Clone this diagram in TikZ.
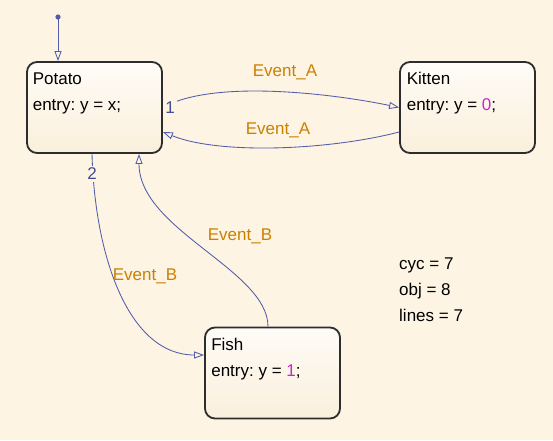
\documentclass[tikz,border=0pt]{standalone}
\usepackage{fontspec}
\setmainfont{Liberation Sans}
\usepackage{tikz}
\usetikzlibrary{arrows.meta, positioning, calc}
\definecolor{chartbg}{RGB}{253, 244, 227}
\definecolor{statetop}{RGB}{254, 252, 247}
\definecolor{statebot}{RGB}{250, 239, 219}
\definecolor{stateedge}{RGB}{45, 45, 45}
\definecolor{transblue}{RGB}{82, 92, 170}
\definecolor{eventorange}{RGB}{204, 128, 0}
\definecolor{valuepink}{RGB}{200, 40, 200}
\definecolor{numblue}{RGB}{65, 75, 150}
\frenchspacing

\tikzset{
  statebox/.style={draw=stateedge, line width=1.8pt, rounded corners=10pt, top color=statetop, bottom color=statebot, minimum width=135pt, minimum height=91pt, inner sep=0pt},
  statetext/.style={anchor=north west, align=left, inner sep=0pt, font=\fontsize{17}{26}\selectfont},
  trans/.style={draw=transblue, line width=0.85pt, -{Triangle[open, length=10pt, width=7pt]}},
  eventlabel/.style={text=eventorange, inner sep=0pt, font=\fontsize{17}{20}\selectfont},
  numlabel/.style={text=numblue, fill=chartbg, inner sep=2pt, font=\fontsize{17}{20}\selectfont}
}

\begin{document}
\begin{tikzpicture}[x=1pt, y=-1pt]
  % chart background
  \fill[chartbg] (0,0) rectangle (553,440);
  \useasboundingbox (0,0) rectangle (553,440);

  % states
  \node[statebox] (potato) at (94.5, 107.5) {};
  \node[statebox] (kitten) at (467.5, 107.5) {};
  \node[statebox] (fish) at (272.5, 373) {};
  \node[statetext] (potatotext) at ([xshift=6.5pt, yshift=-11pt]potato.north west) {Potato\\entry: y = x;};
  \node[statetext] (kittentext) at ([xshift=7.5pt, yshift=-11pt]kitten.north west) {Kitten\\entry: y = \textcolor{valuepink}{0};};
  \node[statetext] (fishtext) at ([xshift=7pt, yshift=-11pt]fish.north west) {Fish\\entry: y = \textcolor{valuepink}{1};};

  % default transition
  \coordinate (init) at (58, 17);
  \fill[transblue] (init) circle (2.6pt);
  \draw[trans] (init) -- (init |- potato.north);

  % Event_A
  \draw[trans] (potato.east) .. controls (215, 78) and (340, 95) .. (kitten.west);
  \draw[trans] ([yshift=-24.5pt]kitten.west) .. controls (330, 150) and (220, 155) .. ([yshift=-24.5pt]potato.east);

  % Event_B
  \draw[trans] ([xshift=-2.5pt]potato.south) .. controls (95, 260) and (130, 355) .. ([yshift=18pt]fish.west);
  \draw[trans] ([xshift=-4.5pt]fish.north) .. controls (268, 270) and (139, 230) .. ([xshift=44.5pt]potato.south);

  % labels
  \node[numlabel] (one) at (170, 108) {1};
  \node[numlabel] (two) at (92, 174) {2};
  \node[eventlabel] (evAtop) at (285, 72) {Event\_A};
  \node[eventlabel] (evAbot) at (278, 130) {Event\_A};
  \node[eventlabel] (evBleft) at (145, 276) {Event\_B};
  \node[eventlabel] (evBright) at (240, 236) {Event\_B};

  % statistics
  \node[statetext] (stats) at (399, 258) {cyc = 7\\obj = 8\\lines = 7};
\end{tikzpicture}
\end{document}
